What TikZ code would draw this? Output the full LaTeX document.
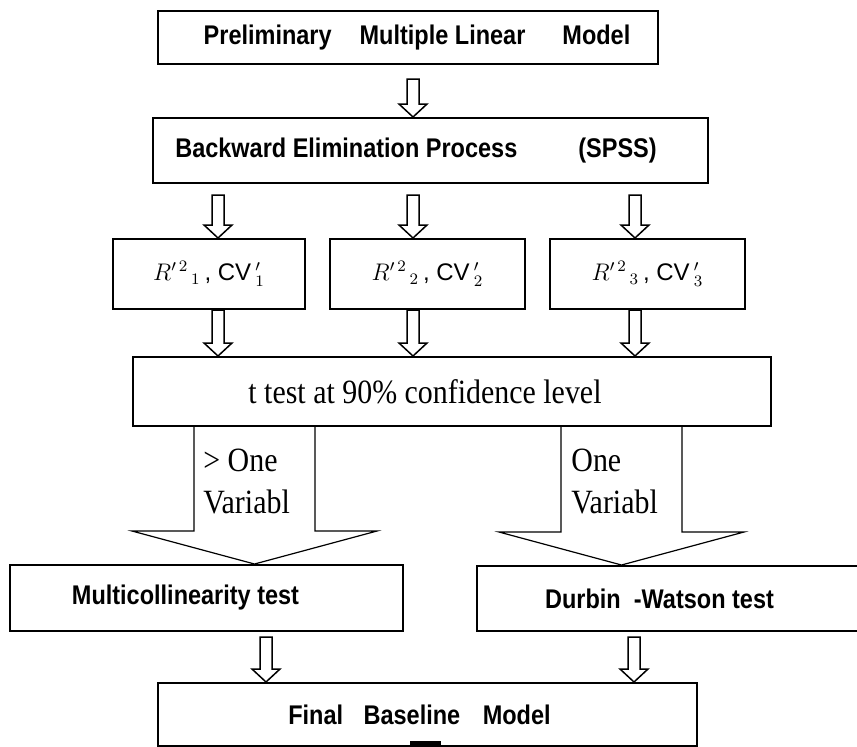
\documentclass[tikz,border=0pt]{standalone}
\usepackage{fontspec}
\setmainfont{Liberation Serif}
\setsansfont{Liberation Sans}
\newfontfamily\boxfont[FakeStretch=0.87]{Liberation Sans}
\newfontfamily\serifnarrow[FakeStretch=0.88]{Liberation Serif}
\usetikzlibrary{calc}

\tikzset{
  flowbox/.style={draw, line width=1pt, inner sep=0pt, anchor=north west,
    font=\boxfont\bfseries\fontsize{13.5}{16}\selectfont},
  rbox/.style={flowbox, font=\sffamily\fontsize{12}{14}\selectfont},
  ttbox/.style={flowbox, font=\serifnarrow\fontsize{17}{20}\selectfont},
  branchlabel/.style={anchor=north west, inner sep=0pt, align=left,
    font=\serifnarrow\fontsize{17}{21}\selectfont},
  blockarrow/.style={draw, fill=white, line width=0.75pt},
  widearrow/.style={draw, line width=0.6pt}
}

% narrow block arrow: #1 top of shaft, #2 tip
\newcommand{\narrowarr}[2]{%
  \path[blockarrow] let \p1=(#1), \p2=(#2) in
    (\x1-3pt,\y1) -- (\x1-3pt,\y2+6.5pt) -- (\x1-7pt,\y2+6.5pt) -- (\x1,\y2)
    -- (\x1+7pt,\y2+6.5pt) -- (\x1+3pt,\y2+6.5pt) -- (\x1+3pt,\y1) -- cycle;}

% wide open arrow: #1 top of shaft, #2 tip
\newcommand{\widearr}[2]{%
  \draw[widearrow] let \p1=(#1), \p2=(#2) in
    (\x1-30.25pt,\y1) -- (\x1-30.25pt,\y2+16.5pt) -- (\x1-61.25pt,\y2+16.5pt) -- (\x1,\y2)
    -- (\x1+61.25pt,\y2+16.5pt) -- (\x1+30.25pt,\y2+16.5pt) -- (\x1+30.25pt,\y1);}

\begin{document}
\begin{tikzpicture}[x=0.5pt, y=-0.5pt]
\useasboundingbox (0,0) rectangle (857,746);
\clip (0,0) rectangle (857,746);

% Columns of the arrows
\coordinate (c1) at (218,0);
\coordinate (c2) at (413,0);
\coordinate (c3) at (635,0);
\coordinate (w1) at (254.5,0);
\coordinate (w2) at (621.5,0);
\coordinate (d1) at (266,0);
\coordinate (d2) at (634,0);

% Boxes
\node[flowbox, minimum width=250pt, minimum height=26.5pt] (prelim) at (157,10)
  {\hspace{9pt}Preliminary\hspace{14pt}Multiple Linear\hspace{18.5pt}Model};
\node[flowbox, minimum width=277.5pt, minimum height=32.5pt] (backward) at (152,117)
  {Backward Elimination Process\hspace{30.5pt}(SPSS)\hspace{14.5pt}\mbox{}};
\node[rbox, minimum width=96pt, minimum height=35pt] (r1) at (112,238)
  {$R'^{\,2}{}_{\,1}$\,, CV\,$'_{1}$};
\node[rbox, minimum width=97.5pt, minimum height=35pt] (r2) at (329,238)
  {$R'^{\,2}{}_{\,2}$\,, CV\,$'_{2}$};
\node[rbox, minimum width=97.5pt, minimum height=35pt] (r3) at (549,238)
  {$R'^{\,2}{}_{\,3}$\,, CV\,$'_{3}$};
\node[ttbox, minimum width=319pt, minimum height=34.5pt] (ttest) at (132,356)
  {t test at 90\% confidence level\hspace{27pt}\mbox{}};
\node[flowbox, minimum width=196.5pt, minimum height=33pt] (multi) at (9,564)
  {Multicollinearity test\hspace{21pt}\mbox{}};
\node[flowbox, minimum width=200pt, minimum height=32.5pt] (durbin) at (476,565)
  {Durbin\ \ -Watson test\hspace{17.5pt}\mbox{}};
\node[flowbox, minimum width=269.5pt, minimum height=31.5pt] (final) at (157,682)
  {Final\hspace{7pt} Baseline\hspace{8pt} Model\hspace{8pt}\mbox{}};
\fill (410,741) rectangle (441,746);

% Arrows
\narrowarr{$(c2 |- prelim.south)+(0,14)$}{c2 |- backward.north}
\narrowarr{$(c1 |- backward.south)+(0,11)$}{c1 |- r1.north}
\narrowarr{$(c2 |- backward.south)+(0,11)$}{c2 |- r2.north}
\narrowarr{$(c3 |- backward.south)+(0,11)$}{c3 |- r3.north}
\narrowarr{c1 |- r1.south}{c1 |- ttest.north}
\narrowarr{c2 |- r2.south}{c2 |- ttest.north}
\narrowarr{c3 |- r3.south}{c3 |- ttest.north}
\widearr{w1 |- ttest.south}{w1 |- multi.north}
\widearr{w2 |- ttest.south}{w2 |- durbin.north}
\narrowarr{$(d1 |- multi.south)+(0,5)$}{d1 |- final.north}
\narrowarr{$(d2 |- durbin.south)+(0,5)$}{d2 |- final.north}

% Branch labels
\node[branchlabel] (many) at ($(w1 |- ttest.south)+(-51.5,22)$) {\textgreater\ One\\Variabl};
\node[branchlabel] (one) at ($(w2 |- ttest.south)+(-50.5,22)$) {One\\Variabl};
\end{tikzpicture}
\end{document}
